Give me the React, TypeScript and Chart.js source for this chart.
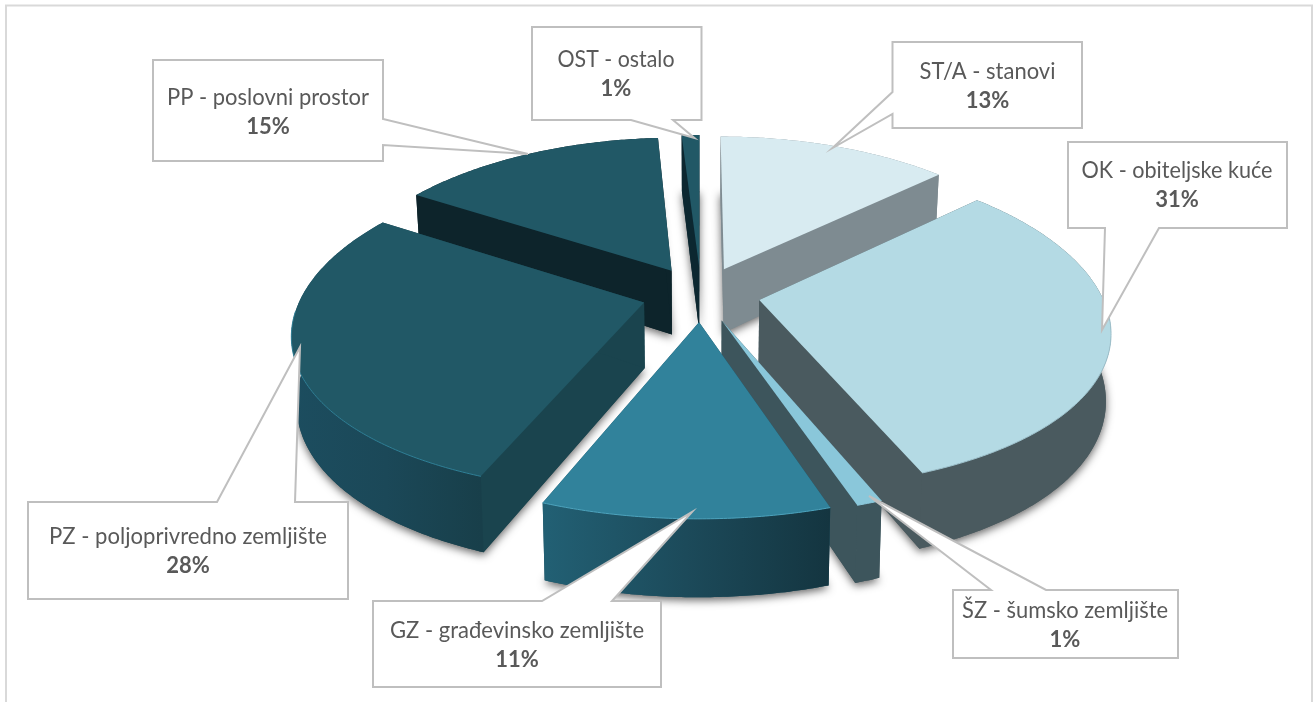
import React, { useEffect, useRef } from "react";
import { Chart, registerables } from "chart.js";

Chart.register(...registerables);

const categories = [
  "ST/A - stanovi",
  "OK - obiteljske kuće",
  "ŠZ - šumsko zemljište",
  "GZ - građevinsko zemljište",
  "PZ - poljoprivredno zemljište",
  "PP - poslovni prostor",
  "OST - ostalo",
];
const values = [13, 31, 1, 11, 28, 15, 1];
const percentLabels = ["13%", "31%", "1%", "11%", "28%", "15%", "1%"];
const topColors = ["#d8ebf1", "#b4dae4", "#8ac7da", "#31829b", "#215866", "#215866", "#215866"];
const faceColors = ["#7e8b91", "#4a5a5f", "#3d555c", "#1c4f60", "#1a444e", "#0d242b", "#0c2730"];
const wallStops = [
  ["#7e8b91", "#7e8b91"],
  ["#4a5a5f", "#4a5a5f"],
  ["#3d555c", "#3d555c"],
  ["#226074", "#1c4a5a", "#143540"],
  ["#1c4d5f", "#1b4858", "#183f4a"],
  ["#0d242b", "#0d242b"],
  ["#0c2730", "#0c2730"],
];
const rimColors = ["#cfe2e8", "#9dc0cb", "#8ac7da", "#4da3bd", "#2f7f96", "#215866", "#215866"];

// Callout boxes: outline polygon (box with pointer), label centre x, text width, baselines.
const calloutOutlines: number[][][] = [
  [[892.5, 42], [1082, 42], [1082, 128], [892.5, 128], [892.5, 114], [832.5, 148], [892.5, 92]],
  [[1068, 142], [1287, 142], [1287, 228], [1159, 228], [1102, 330], [1105, 228], [1068, 228]],
  [[953, 590], [991, 590], [869, 496], [1046, 590], [1178, 590], [1178, 658], [953, 658]],
  [[373, 601], [542, 601], [692, 512], [612, 601], [661, 601], [661, 687], [373, 687]],
  [[28, 502], [217, 502], [300, 347], [295, 502], [348, 502], [348, 599], [28, 599]],
  [[153, 60], [383, 60], [383, 119], [528, 154], [383, 145], [383, 161], [153, 161]],
  [[532, 27], [701.5, 27], [701.5, 120], [673, 120], [694.5, 138], [631, 120], [532, 120]],
];
const labelCentres = [987.5, 1177, 1065, 517, 188, 268, 616];
const labelWidths = [136, 191, 206, 254, 278, 202, 117];
const labelBaselines = [79, 178, 618, 638, 544, 105, 67];

// Perspective view of the pie's plane.
const VIEW = { cx: 701, cy: 294, rx: 342, ry: 158.8, px: 0.175, py: 0.146, depth: 65, taper: 0.0125 };

function project(X: number, Y: number, Z: number) {
  const f = 1 / (1 - VIEW.px * Y);
  const g = 1 / (1 - VIEW.py * Y);
  return {
    x: VIEW.cx + VIEW.rx * X * f * (1 - VIEW.taper * Z),
    y: VIEW.cy + VIEW.ry * Y * g + VIEW.depth * Z * g,
  };
}

function sliceGeometry(el: any) {
  const { startAngle, endAngle, outerRadius } = el;
  const mid = (startAngle + endAngle) / 2;
  const e = (el.options.offset || 0) / outerRadius;
  const ax = e * Math.cos(mid);
  const ay = e * Math.sin(mid);
  const n = Math.max(2, Math.ceil((endAngle - startAngle) / 0.01));
  const rim: [number, number, number][] = [];
  for (let i = 0; i <= n; i++) {
    const a = startAngle + ((endAngle - startAngle) * i) / n;
    rim.push([ax + Math.cos(a), ay + Math.sin(a), a]);
  }
  return { ax, ay, rim, mid };
}

function poly(ctx: CanvasRenderingContext2D, pts: { x: number; y: number }[]) {
  ctx.beginPath();
  pts.forEach((p, i) => (i ? ctx.lineTo(p.x, p.y) : ctx.moveTo(p.x, p.y)));
  ctx.closePath();
}

const pie3d = {
  id: "pie3d",
  beforeDraw(chart: any) {
    const ctx = chart.ctx as CanvasRenderingContext2D;
    ctx.save();
    ctx.fillStyle = "#ffffff";
    ctx.fillRect(0, 0, chart.width, chart.height);
    ctx.strokeStyle = "#d9d9d9";
    ctx.lineWidth = 2;
    ctx.strokeRect(6, 5.5, 1306, 800);
    ctx.restore();
  },
  beforeDatasetsDraw(chart: any) {
    const ctx = chart.ctx as CanvasRenderingContext2D;
    const arcs = chart.getDatasetMeta(0).data as any[];
    const order = arcs
      .map((el, i) => ({ i, y: Math.sin((el.startAngle + el.endAngle) / 2) }))
      .sort((a, b) => a.y - b.y);
    for (const { i } of order) {
      const el = arcs[i];
      const { ax, ay, rim } = sliceGeometry(el);
      const top = rim.map(([X, Y]) => project(X, Y, 0));
      const bottom = rim.map(([X, Y]) => project(X, Y, 1));
      const apexTop = project(ax, ay, 0);
      const apexBottom = project(ax, ay, 1);

      // ground shadow of the slice's underside
      ctx.save();
      ctx.shadowColor = "rgba(0,0,0,0.6)";
      ctx.shadowBlur = 9;
      ctx.shadowOffsetY = 3;
      ctx.fillStyle = faceColors[i];
      poly(ctx, [apexBottom, ...bottom]);
      ctx.fill();
      ctx.restore();

      // radial faces
      ctx.fillStyle = faceColors[i];
      poly(ctx, [apexTop, top[0], bottom[0], apexBottom]);
      ctx.fill();
      const last = top.length - 1;
      poly(ctx, [apexTop, top[last], bottom[last], apexBottom]);
      ctx.fill();

      // curved outer wall
      const xs = top.map((p) => p.x);
      const grad = ctx.createLinearGradient(Math.min(...xs), 0, Math.max(...xs), 0);
      wallStops[i].forEach((c, k) => grad.addColorStop(k / (wallStops[i].length - 1), c));
      ctx.fillStyle = grad;
      poly(ctx, [...top, ...bottom.slice().reverse()]);
      ctx.fill();

      // top surface
      ctx.fillStyle = el.options.backgroundColor;
      poly(ctx, [apexTop, ...top]);
      ctx.fill();

      // rim highlight, only along the edge that faces the viewer
      ctx.strokeStyle = rimColors[i];
      ctx.lineWidth = 1;
      ctx.beginPath();
      let started = false;
      top.forEach((p, k) => {
        if (Math.sin(rim[k][2]) < 0.05) return;
        if (started) ctx.lineTo(p.x, p.y);
        else ctx.moveTo(p.x, p.y);
        started = true;
      });
      ctx.stroke();
    }
    return false;
  },
  afterDraw(chart: any) {
    const ctx = chart.ctx as CanvasRenderingContext2D;
    const labels = chart.data.labels as string[];
    ctx.save();
    calloutOutlines.forEach((pts, i) => {
      ctx.beginPath();
      pts.forEach(([x, y], k) => (k ? ctx.lineTo(x, y) : ctx.moveTo(x, y)));
      ctx.closePath();
      ctx.fillStyle = "#ffffff";
      ctx.fill();
      ctx.strokeStyle = "#bfbfbf";
      ctx.lineWidth = 2;
      ctx.lineJoin = "miter";
      ctx.stroke();

      ctx.fillStyle = "#595959";
      ctx.textAlign = "center";
      ctx.textBaseline = "alphabetic";
      ctx.font = "22.5px Lato, sans-serif";
      ctx.fillText(labels[i], labelCentres[i], labelBaselines[i], labelWidths[i]);
      ctx.font = "bold 22px Lato, sans-serif";
      ctx.fillText(percentLabels[i], labelCentres[i], labelBaselines[i] + 29);
    });
    ctx.restore();
  },
};

export default function App() {
  const ref = useRef<HTMLCanvasElement>(null);
  useEffect(() => {
    const chart = new Chart(ref.current as HTMLCanvasElement, {
      type: "pie",
      data: {
        labels: categories,
        datasets: [{ data: values, backgroundColor: topColors, borderWidth: 0, offset: 56 }],
      },
      options: {
        responsive: false,
        animation: false,
        events: [],
        plugins: { legend: { display: false }, tooltip: { enabled: false } },
      },
      plugins: [pie3d],
    } as any);
    return () => chart.destroy();
  }, []);
  return (
    <canvas
      ref={ref}
      width={1313}
      height={702}
      style={{ position: "absolute", left: 0, top: 0, width: 1313, height: 702, display: "block" }}
    />
  );
}
